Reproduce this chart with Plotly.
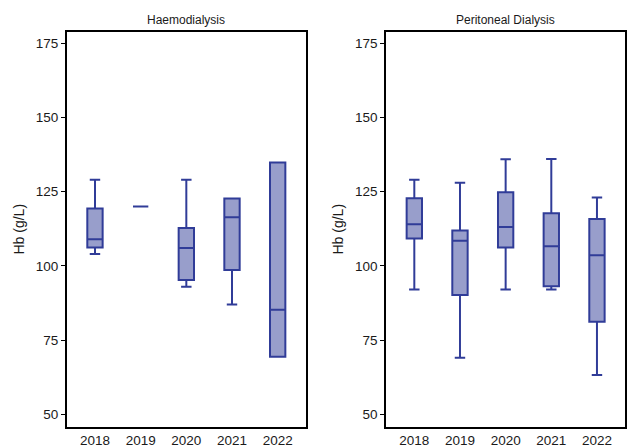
import plotly.graph_objects as go

years = ["2018", "2019", "2020", "2021", "2022"]

# Haemodialysis summary stats
hd_low = [104, 120, 93, 87, 69.4]
hd_q1 = [106.2, 120, 95.2, 98.6, 69.4]
hd_med = [109, 120, 106, 116.4, 85.2]
hd_q3 = [119.3, 120, 112.8, 122.7, 134.8]
hd_high = [129, 120, 129, 122.7, 134.8]

# Peritoneal dialysis summary stats
pd_low = [92, 69, 92, 92, 63.2]
pd_q1 = [109.2, 90.2, 106.2, 93.1, 81.2]
pd_med = [114, 108.5, 113.1, 106.6, 103.6]
pd_q3 = [122.8, 111.9, 124.8, 117.7, 115.8]
pd_high = [129, 128, 135.9, 136, 123]

panel_titles = ["Haemodialysis", "Peritoneal Dialysis"]
y_ticks = [50, 75, 100, 125, 150, 175]

fill = "#989ecb"
line = "#303c98"
FONT = "Arial, Liberation Sans, sans-serif"

fig = go.Figure()

def add_box(xa, ya, low, q1, med, q3, high):
    fig.add_trace(go.Box(
        x=years, q1=q1, median=med, q3=q3, lowerfence=low, upperfence=high,
        xaxis=xa, yaxis=ya, fillcolor=fill, line=dict(color=line, width=2),
        whiskerwidth=0.68, boxpoints=False, showlegend=False, hoverinfo="skip",
    ))

add_box("x", "y", hd_low, hd_q1, hd_med, hd_q3, hd_high)
add_box("x2", "y2", pd_low, pd_q1, pd_med, pd_q3, pd_high)

axis_common = dict(showline=True, linecolor="black", linewidth=1.5, mirror=True,
                   showgrid=False, zeroline=False)
yaxis_common = dict(axis_common, range=[45.8, 178.9], tickvals=y_ticks,
                    ticks="outside", ticklen=4, tickcolor="black", tickwidth=1,
                    tickfont=dict(family=FONT, size=13.5, color="#1a1a1a"),
                    title=dict(text="Hb (g/L)", font=dict(family=FONT, size=14, color="#1a1a1a"), standoff=8))
xaxis_common = dict(axis_common, range=[-0.62, 4.62], ticks="",
                    tickfont=dict(family=FONT, size=13.5, color="#1a1a1a"))

dom1 = [0.1058, 0.4857]
dom2 = [0.6127, 0.9925]
ydom = [0.0454, 0.929]

fig.update_layout(
    width=630, height=447,
    margin=dict(l=0, r=0, t=0, b=0),
    paper_bgcolor="white", plot_bgcolor="white",
    boxgap=0.52,
    xaxis=dict(xaxis_common, domain=dom1, anchor="y"),
    yaxis=dict(yaxis_common, domain=ydom, anchor="x"),
    xaxis2=dict(xaxis_common, domain=dom2, anchor="y2"),
    yaxis2=dict(yaxis_common, domain=ydom, anchor="x2"),
)

for t, dom in zip(panel_titles, [dom1, dom2]):
    fig.add_annotation(text=t, x=(dom[0] + dom[1]) / 2, y=1 - 20 / 447, xref="paper", yref="paper",
                       xanchor="center", yanchor="middle", showarrow=False,
                       font=dict(family=FONT, size=12, color="#1a1a1a"))

fig.write_html("out.html", config={"displayModeBar": False},
               post_script="document.body.style.margin='0';document.body.style.overflow='hidden';")
